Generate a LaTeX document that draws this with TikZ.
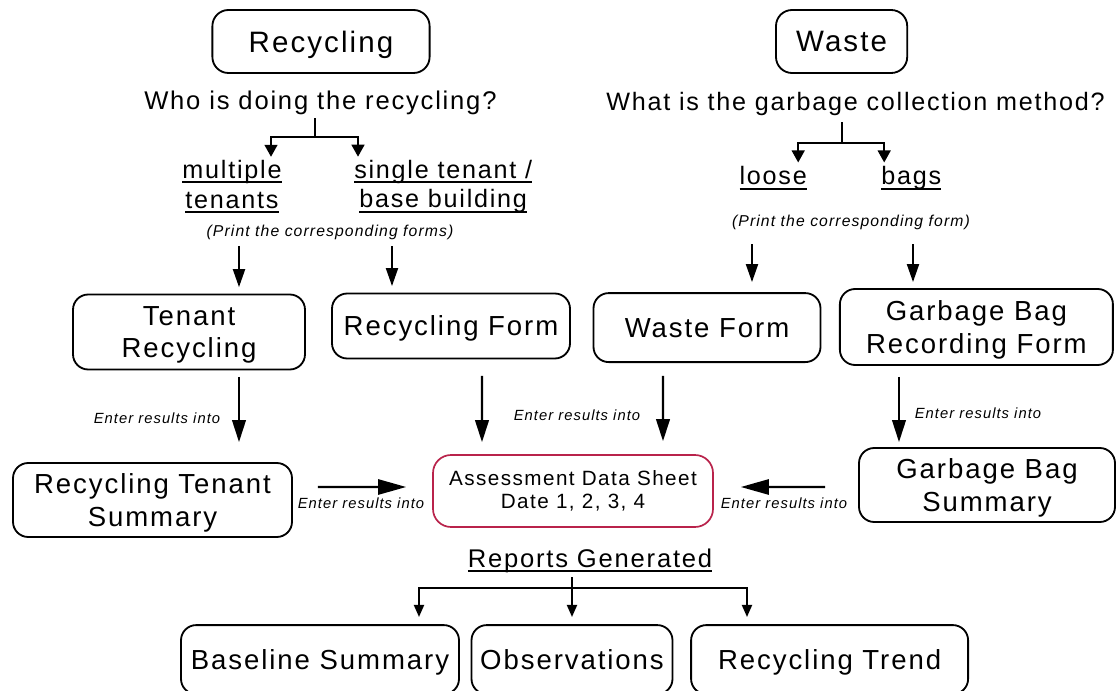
\documentclass[tikz,border=0pt]{standalone}
\usepackage{fontspec}
\setmainfont{Liberation Sans}[LetterSpace=7]
\usetikzlibrary{arrows.meta,positioning,calc}

\definecolor{sheetred}{RGB}{185,35,75}
\newcommand\undertext[1]{\setbox0=\hbox{#1}\rlap{\rule[-3.6pt]{\wd0}{1.2pt}}\box0}

\begin{document}
\begin{tikzpicture}[
  x=1cm,y=1cm,
  titlebox/.style={draw=black, rounded corners=0.4cm, line width=1.3pt, minimum height=1.575cm, inner sep=2pt, text depth=0pt, font=\fontsize{21}{25}\selectfont},
  formbox/.style={draw=black, rounded corners=0.38cm, line width=1.3pt, align=center, inner sep=2pt, text depth=0pt, font=\fontsize{19.6}{22.8}\selectfont},
  sheetbox/.style={draw=sheetred, rounded corners=0.45cm, line width=1.2pt, align=center, inner sep=2pt, font=\fontsize{14.7}{16.4}\selectfont},
  question/.style={font=\fontsize{18.2}{21.3}\selectfont, inner sep=0pt},
  choice/.style={font=\fontsize{17.9}{21.3}\selectfont, align=center, inner sep=0pt},
  note/.style={font=\fontsize{11.2}{13}\selectfont\itshape, inner sep=0pt},
  flowlabel/.style={font=\fontsize{10.5}{12}\selectfont\itshape, inner sep=0pt},
  fork/.style={line width=1.4pt},
  forkarrow/.style={line width=1.4pt, -{Triangle[width=0.32cm,length=0.3cm]}},
  feedarrow/.style={line width=1.4pt, -{Triangle[width=0.3cm,length=0.45cm]}},
  enterarrow/.style={line width=1.5pt, -{Triangle[width=0.34cm,length=0.55cm]}},
  sidearrow/.style={line width=1.5pt, -{Triangle[width=0.38cm,length=0.7cm]}},
  reportarrow/.style={line width=1.3pt, -{Triangle[width=0.25cm,length=0.3cm]}}
]
  \useasboundingbox (0,0) rectangle (27.9,17.25);
  \fill[white] (0,0) rectangle (27.9,17.25);

  \node[titlebox, minimum width=5.43cm] (recT) at (8.025,16.2125) {Recycling};
  \node[titlebox, minimum width=3.28cm] (wasT) at (21.04,16.2125) {Waste};

  \node[question, anchor=base] (recQ) at (8.01,14.5) {Who is doing the recycling?};
  \node[question, anchor=base west, font=\fontsize{17.9}{21.3}\selectfont] (wasQ) at (15.15,14.475) {What is the garbage collection method?};

  \node[choice] (multi) at (5.8,12.5875) {\undertext{multiple}\\\undertext{tenants}};
  \node[choice] (single) at (11.08,12.5875) {\undertext{single tenant /}\\\undertext{base building}};
  \node[choice, anchor=base] (loose) at (19.33,12.625) {\undertext{loose}};
  \node[choice, anchor=base] (bags) at (22.78,12.625) {\undertext{bags}};

  \draw[fork] ($(recQ.south -| recT.south)+(-0.15,-0.07)$) -- ++(0,-0.475) coordinate (recsplit);
  \draw[forkarrow] (recsplit) -| ($(multi.north)+(0.975,0.07)$);
  \draw[forkarrow] (recsplit) -| ($(single.north)+(-2.13,0.07)$);

  \draw[fork] ($(wasQ.south -| wasT.south)+(0,-0.145)$) -- ++(0,-0.525) coordinate (wassplit);
  \draw[forkarrow] (wassplit) -| ($(loose.north)+(0.625,0.1)$);
  \draw[forkarrow] (wassplit) -| ($(bags.north)+(-0.675,0.1)$);

  \node[note] (printA) at (8.25,11.45) {(Print the corresponding forms)};
  \node[note] (printB) at (21.275,11.7) {(Print the corresponding form)};

  \node[formbox, minimum width=5.8cm, minimum height=1.875cm] (tenrec) at (4.725,8.95) {Tenant\\Recycling};
  \node[formbox, minimum width=5.95cm, minimum height=1.625cm] (recform) at (11.275,9.1) {Recycling Form};
  \node[formbox, minimum width=5.675cm, minimum height=1.725cm] (wasform) at (17.675,9.06) {Waste Form};
  \node[formbox, minimum width=6.825cm, minimum height=1.9cm] (gbrec) at (24.41,9.075) {Garbage Bag\\Recording Form};

  \draw[feedarrow] ($(tenrec.north)+(1.25,1.19)$) -- ($(tenrec.north)+(1.25,0.16)$);
  \draw[feedarrow] ($(recform.north)+(-1.475,1.1625)$) -- ($(recform.north)+(-1.475,0.1625)$);
  \draw[feedarrow] ($(wasform.north)+(1.125,1.2025)$) -- ($(wasform.north)+(1.125,0.2525)$);
  \draw[feedarrow] ($(gbrec.north)+(-1.585,1.1)$) -- ($(gbrec.north)+(-1.585,0.15)$);

  \node[formbox, minimum width=6.975cm, minimum height=1.85cm] (rtsum) at (3.8125,4.75) {Recycling Tenant\\Summary};
  \node[sheetbox, minimum width=7cm, minimum height=1.8cm] (ads) at (14.325,4.975) {Assessment Data Sheet\\Date 1, 2, 3, 4};
  \node[formbox, minimum width=6.4cm, minimum height=1.85cm] (gbsum) at (24.675,5.125) {Garbage Bag\\Summary};

  \draw[enterarrow] ($(tenrec.south)+(1.25,-0.16)$) -- ($(rtsum.north)+(2.1625,0.5)$);
  \draw[enterarrow] ($(recform.south)+(0.775,-0.4125)$) -- ($(ads.north)+(-2.275,0.3)$);
  \draw[enterarrow] ($(wasform.south)+(-1.1,-0.3225)$) -- ($(ads.north)+(2.25,0.325)$);
  \draw[enterarrow] ($(gbrec.south)+(-1.935,-0.275)$) -- ($(gbsum.north)+(-2.2,0.125)$);
  \draw[sidearrow] ($(rtsum.east)+(0.625,0.325)$) -- ($(ads.west)+(-0.65,0.1)$);
  \draw[sidearrow] ($(gbsum.west)+(-0.825,-0.05)$) -- ($(ads.east)+(0.675,0.1)$);

  \node[flowlabel] (enterA) at (3.925,6.8) {Enter results into};
  \node[flowlabel] (enterB) at (14.425,6.875) {Enter results into};
  \node[flowlabel] (enterC) at (24.45,6.925) {Enter results into};
  \node[flowlabel] (enterD) at (9.025,4.675) {Enter results into};
  \node[flowlabel] (enterE) at (19.6,4.675) {Enter results into};

  \node[question, anchor=base] (reports) at (14.75,3.075) {\undertext{Reports Generated}};

  \node[formbox, minimum width=6.95cm, minimum height=1.725cm] (base) at (8.0,0.76) {Baseline Summary};
  \node[formbox, minimum width=5.025cm, minimum height=1.725cm] (obs) at (14.3,0.76) {Observations};
  \node[formbox, minimum width=6.925cm, minimum height=1.725cm] (trend) at (20.74,0.76) {Recycling Trend};

  \draw[fork] ($(reports.south -| obs.north)+(0,-0.115)$) -- ++(0,-0.275) coordinate (repsplit);
  \draw[reportarrow] (repsplit) -| ($(base.north)+(2.475,0.18)$);
  \draw[reportarrow] (repsplit) -- ($(obs.north)+(0,0.18)$);
  \draw[reportarrow] (repsplit) -| ($(trend.north)+(-2.065,0.18)$);
\end{tikzpicture}
\end{document}
